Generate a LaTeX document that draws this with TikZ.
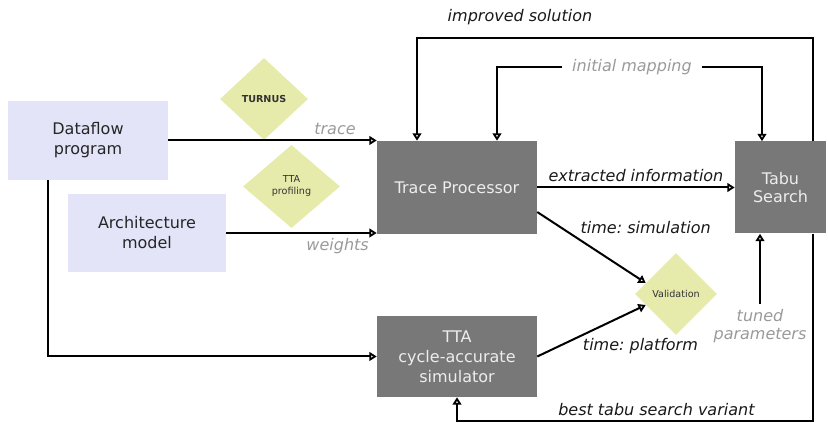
\documentclass[tikz,border=0pt]{standalone}
\usepackage{fontspec}
\setmainfont{DejaVu Sans}
\usetikzlibrary{shapes.geometric,arrows.meta}
\definecolor{boxblue}{HTML}{E3E4F8}
\definecolor{boxgray}{HTML}{787878}
\definecolor{toolgreen}{HTML}{E6EBAB}
\definecolor{labelgray}{HTML}{9A9A9A}
\frenchspacing

\begin{document}
\begin{tikzpicture}[x=0.75pt,y=-0.75pt,
    inputnode/.style={rectangle, fill=boxblue, text=black!85, minimum width=120pt, minimum height=59pt, align=center, font=\fontsize{12}{15}\selectfont},
    procnode/.style={rectangle, fill=boxgray, text=white!93!black, align=center, font=\fontsize{12}{15}\selectfont},
    toolnode/.style={diamond, fill=toolgreen, inner sep=0pt, align=center, text=black!80, font=\fontsize{7.2}{9}\selectfont},
    flow/.style={-{Triangle[open,length=5.5pt,width=6.5pt]}, line width=1.5pt},
    lbl/.style={font=\fontsize{12}{15}\selectfont\itshape, text=black!90},
    graylbl/.style={lbl, text=labelgray},
]
    \useasboundingbox (0,0) rectangle (828,423);

    %Nodes
    \node[inputnode] (dataflow) at (88,140.5) {Dataflow\\program};
    \node[inputnode, minimum width=118.5pt, minimum height=58.5pt] (arch) at (147,233) {Architecture\\model};
    \node[procnode, minimum width=120pt, minimum height=69.75pt] (trace) at (457,187.5) {Trace Processor};
    \node[procnode, minimum width=68.25pt, minimum height=69pt, font=\fontsize{12}{13.5}\selectfont] (tabu) at (780.5,187.5) {Tabu\\Search};
    \node[procnode, minimum width=120pt, minimum height=60.75pt] (sim) at (457,356.5) {TTA\\cycle-accurate\\simulator};

    \node[toolnode, minimum width=66pt, minimum height=61.5pt] (turnus) at (264,99) {\bfseries TURNUS};
    \node[toolnode, minimum width=72.75pt, minimum height=62.25pt] (profiling) at (291.5,186.5) {TTA\\profiling};
    \node[toolnode, minimum width=61.5pt, minimum height=61.5pt] (valid) at (676,294) {Validation};

    \node[graylbl, inner sep=7.5pt] (init) at (632,67) {initial mapping};
    \node[graylbl, align=center, font=\fontsize{12}{14}\selectfont\itshape] (tuned) at (760,326) {tuned\\parameters};

    %Lines
    \draw[flow] (dataflow.east) -- (dataflow.east -| trace.west) node[pos=0.8, above, graylbl]{trace};
    \draw[flow] (arch.east) -- (arch.east -| trace.west) node[pos=0.74, below, graylbl]{weights};
    \draw[flow] ([xshift=-30pt]dataflow.south) |- (sim.west);
    \draw[flow] ([xshift=24.4pt]tabu.north) -- ++(0,-103) -| node[pos=0.37, above=6pt, lbl]{improved solution} ([xshift=-30pt]trace.north);
    \draw[flow] (init.west) -| ([xshift=30pt]trace.north);
    \draw[flow] (init.east) -| ([xshift=-13.9pt]tabu.north);
    \draw[flow] (trace.east) -- (trace.east -| tabu.west) node[midway, above, lbl]{extracted information};
    \draw[flow] ([yshift=-18.4pt]trace.east) -- (valid.160) node[pos=0.35, anchor=west, yshift=7pt, lbl]{time: simulation};
    \draw[flow] (sim.east) -- (valid.200) node[pos=0.4, anchor=north west, inner sep=1pt, lbl]{time: platform};
    \draw[flow] (tuned) -- (tuned |- tabu.south);
    \draw[flow] ([xshift=24.4pt]tabu.south) -- ++(0,187) -| node[pos=0.22, above, lbl]{best tabu search variant} (sim.south);
\end{tikzpicture}
\end{document}
